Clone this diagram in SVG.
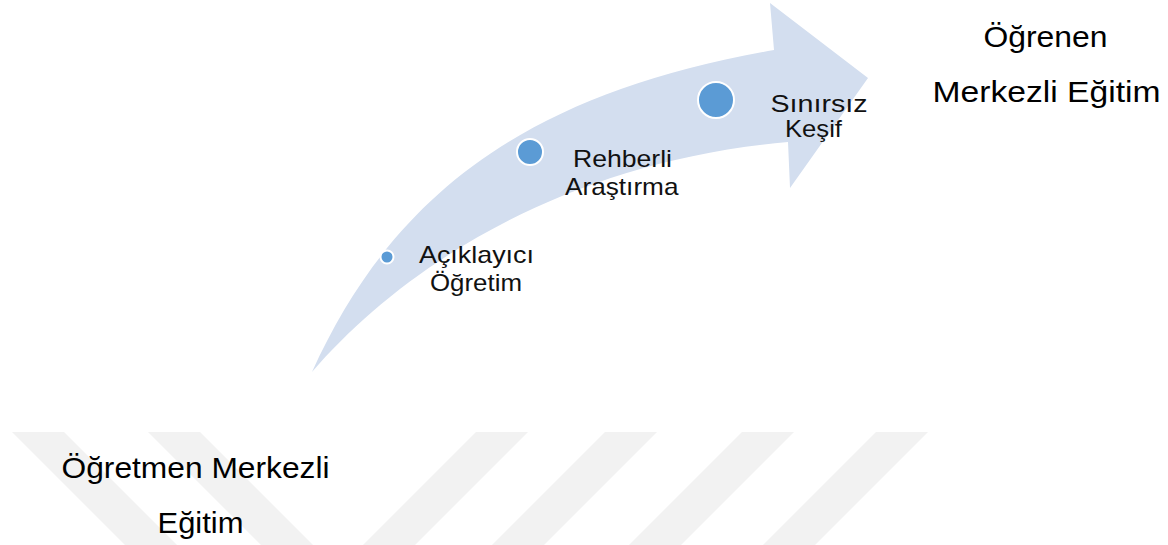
<svg xmlns="http://www.w3.org/2000/svg" width="1168" height="545" viewBox="0 0 1168 545">
<style>
.stripe{fill:#f2f2f2}
.arrow{fill:#d3deef}
.dot{fill:#5b9bd5;stroke:#ffffff;stroke-width:2}
.sm{font-family:"Liberation Sans",Arial,sans-serif;font-size:24px;fill:#111111}
.lg{font-family:"Liberation Sans",Arial,sans-serif;font-size:30px;fill:#000000}
</style>
<rect width="1168" height="545" fill="#ffffff"/>
<g id="watermark">
<polygon class="stripe" points="12,432 64,432 177,545 125,545"/>
<polygon class="stripe" points="148,432 200,432 313,545 261,545"/>
<polygon class="stripe" points="476,432 528,432 415,545 363,545"/>
<polygon class="stripe" points="605,432 657,432 544,545 492,545"/>
<polygon class="stripe" points="742,432 794,432 681,545 629,545"/>
<polygon class="stripe" points="876,432 928,432 815,545 763,545"/>
</g>
<g id="connectors">
<path id="arrow" class="arrow" d="M312,372 C390,200 520,94 774,50 L770,3 L868,78 L790,188 L788,142 C560,162 400,270 312,372 Z"/>
</g>
<g id="node-aciklayici">
<circle class="dot" cx="387" cy="257" r="6.5"/>
<text class="sm" x="419" y="263" textLength="115" lengthAdjust="spacingAndGlyphs">Açıklayıcı</text>
<text class="sm" x="430" y="290.5" textLength="92" lengthAdjust="spacingAndGlyphs">Öğretim</text>
</g>
<g id="node-rehberli">
<circle class="dot" cx="530" cy="152" r="13"/>
<text class="sm" x="573" y="167" textLength="99" lengthAdjust="spacingAndGlyphs">Rehberli</text>
<text class="sm" x="565" y="195" textLength="113.5" lengthAdjust="spacingAndGlyphs">Araştırma</text>
</g>
<g id="node-sinirsiz">
<circle class="dot" cx="716" cy="100" r="18"/>
<text class="sm" x="770.5" y="111.5" textLength="97" lengthAdjust="spacingAndGlyphs">Sınırsız</text>
<text class="sm" x="785" y="137" textLength="57" lengthAdjust="spacingAndGlyphs">Keşif</text>
</g>
<g id="node-ogrenen">
<text class="lg" x="983.5" y="46.5" textLength="124" lengthAdjust="spacingAndGlyphs">Öğrenen</text>
<text class="lg" x="932.5" y="101.5" textLength="228" lengthAdjust="spacingAndGlyphs">Merkezli Eğitim</text>
</g>
<g id="node-ogretmen">
<text class="lg" x="61.5" y="478" textLength="268" lengthAdjust="spacingAndGlyphs">Öğretmen Merkezli</text>
<text class="lg" x="157.5" y="533" textLength="86" lengthAdjust="spacingAndGlyphs">Eğitim</text>
</g>
</svg>
